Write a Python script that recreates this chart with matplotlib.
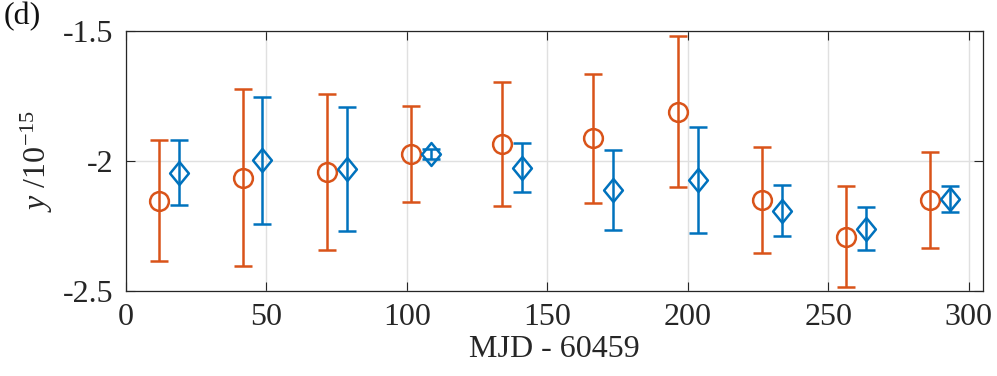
import matplotlib
matplotlib.use("Agg")
import matplotlib.pyplot as plt
from matplotlib.path import Path

# ---- data ----
x_orange = [11.8, 41.7, 71.6, 101.5, 133.9, 166.4, 196.5, 226.4, 256.3, 286.2]
y_orange = [-2.154, -2.065, -2.043, -1.974, -1.936, -1.914, -1.811, -2.151, -2.292, -2.151]
e_orange = [0.232, 0.341, 0.300, 0.183, 0.237, 0.247, 0.291, 0.203, 0.195, 0.184]

x_blue = [18.8, 48.5, 78.6, 108.5, 141.0, 173.4, 203.5, 233.5, 263.4, 293.4]
y_blue = [-2.046, -1.999, -2.032, -1.975, -2.027, -2.113, -2.074, -2.193, -2.261, -2.147]
e_blue = [0.125, 0.243, 0.240, 0.020, 0.094, 0.154, 0.205, 0.098, 0.082, 0.050]

xticks = [0, 50, 100, 150, 200, 250, 300]
yticks = [-2.5, -2.0, -1.5]
yticklabels = ["-2.5", "-2", "-1.5"]

ORANGE = "#D95319"
BLUE = "#0072BD"
FS = 23
LW = 1.8

plt.rcParams["font.family"] = ["Liberation Serif", "DejaVu Serif"]
plt.rcParams["mathtext.fontset"] = "custom"
plt.rcParams["mathtext.rm"] = "Liberation Serif"
plt.rcParams["mathtext.it"] = "Liberation Serif:italic"
plt.rcParams["axes.unicode_minus"] = False

fig = plt.figure(figsize=(9.97, 3.76), dpi=100)
ax = fig.add_axes([0.1264, 0.2269, 0.9857 - 0.1264, 0.9184 - 0.2269])

ax.grid(True, color="#e0e0e0", linewidth=1.0, zorder=0)
ax.set_axisbelow(True)

ax.errorbar(x_orange, y_orange, yerr=e_orange, fmt="o", color=ORANGE,
            markerfacecolor="none", markeredgecolor=ORANGE, markersize=13.5,
            markeredgewidth=LW, elinewidth=LW, capsize=6.5, capthick=LW, zorder=3)

diamond = Path([(0, 1), (0.82, 0), (0, -1), (-0.82, 0), (0, 1)],
               [Path.MOVETO, Path.LINETO, Path.LINETO, Path.LINETO, Path.CLOSEPOLY])
ax.errorbar(x_blue, y_blue, yerr=e_blue, fmt="none", ecolor=BLUE,
            elinewidth=LW, capsize=6.5, capthick=LW, zorder=3)
ax.plot(x_blue, y_blue, linestyle="none", marker=diamond, markersize=16.5,
        markerfacecolor="none", markeredgecolor=BLUE, markeredgewidth=LW, zorder=4)

ax.set_xlim(0, 305)
ax.set_ylim(-2.5, -1.5)
ax.set_xticks(xticks)
ax.set_yticks(yticks)
ax.set_yticklabels(yticklabels)

ax.tick_params(direction="in", length=6.5, width=0.8, top=True, right=True,
               labelsize=FS, colors="#262626")
ax.tick_params(axis="x", pad=9)
ax.tick_params(axis="y", pad=9)
for sp in ax.spines.values():
    sp.set_color("#262626")
    sp.set_linewidth(0.9)

ax.set_xlabel("MJD - 60459", fontsize=FS, color="#262626", labelpad=2)
ax.set_ylabel(r"$y$ /10$^{-15}$", fontsize=FS, color="#262626", labelpad=6)

fig.text(0.004, 0.995, "(d)", fontsize=FS, ha="left", va="top", color="#111111")

fig.savefig("out.png", dpi=100)
